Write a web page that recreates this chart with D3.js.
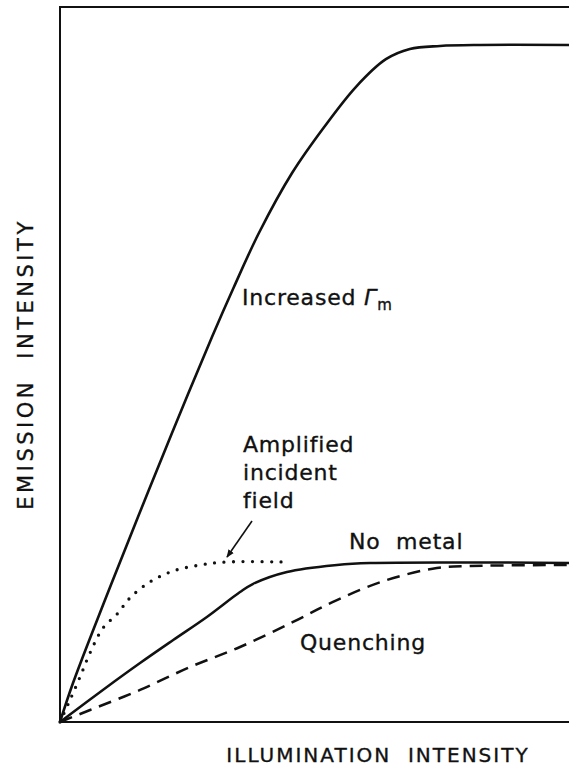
<!DOCTYPE html>
<html>
<head>
<meta charset="utf-8">
<script src="https://cdn.jsdelivr.net/npm/d3@7"></script>
<style>
  html, body { margin: 0; padding: 0; background: #fff; }
  svg { display: block; }
  text { font-family: "DejaVu Sans", sans-serif; fill: #111; stroke: #111; stroke-width: 0.35; }
</style>
</head>
<body>
<svg id="chart" width="569" height="779"></svg>
<script>
// Illumination intensity (relative, 0–100) and emission intensity (relative, 0–100)
const increasedX = [0, 2.55, 8.82, 15.29, 21.96, 29.8, 34.1, 39.0, 45.5, 51.8, 58.0, 63.9, 68.6, 74.5, 82.4, 100];
const increasedY = [0, 5.45, 17.06, 28.67, 40.42, 53.85, 60.84, 68.39, 76.78, 83.22, 88.81, 92.7, 94.13, 94.55, 94.69, 94.69];

const amplifiedX = [0, 1.96, 3.92, 5.88, 8.43, 11.2, 13.7, 17.6, 22.2, 27.5, 32.7, 43.7];
const amplifiedY = [0, 3.08, 6.29, 9.65, 13.15, 15.1, 17.34, 19.58, 21.12, 21.96, 22.38, 22.38];

const noMetalX = [0, 9.2, 15.7, 22.2, 28.8, 35.3, 37.8, 44.5, 54.3, 60.8, 100];
const noMetalY = [0, 4.9, 8.25, 11.47, 14.69, 18.18, 19.3, 20.98, 21.96, 22.24, 22.24];

const quenchingX = [0, 5.9, 15.7, 25.5, 35.3, 45.7, 54.3, 64.1, 73.9, 80.4, 100];
const quenchingY = [0, 1.68, 4.48, 7.69, 10.49, 13.99, 17.06, 19.86, 21.54, 21.82, 21.96];

const xTitle = "ILLUMINATION INTENSITY";
const yTitle = "EMISSION INTENSITY";

const svg = d3.select("#chart");
const margin = { left: 60, top: 7, bottom: 722, right: 570 };

const x = d3.scaleLinear().domain([0, 100]).range([margin.left, margin.right]);
const y = d3.scaleLinear().domain([0, 100]).range([margin.bottom, margin.top]);

// frame: left, top and bottom edges (right edge runs past the page)
svg.append("path")
  .attr("d", `M${x(100) + 5},${y(100)} H${x(0)} V${y(0)} H${x(100) + 5}`)
  .attr("fill", "none")
  .attr("stroke", "#111")
  .attr("stroke-width", 2);

const zip = (xs, ys) => xs.map((v, i) => [v, ys[i]]);
const line = d3.line()
  .x(d => x(d[0]))
  .y(d => y(d[1]))
  .curve(d3.curveCatmullRom.alpha(0.5));

const curves = [
  { pts: zip(increasedX, increasedY), dash: null, width: 2.6 },
  { pts: zip(noMetalX, noMetalY), dash: null, width: 2.5 },
  { pts: zip(quenchingX, quenchingY), dash: "13,8", width: 2.5 },
  { pts: zip(amplifiedX, amplifiedY), dash: "0,9.5", width: 3.3, cap: "round" }
];

svg.selectAll("path.curve")
  .data(curves)
  .join("path")
  .attr("class", "curve")
  .attr("d", d => line(d.pts))
  .attr("fill", "none")
  .attr("stroke", "#111")
  .attr("stroke-width", d => d.width)
  .attr("stroke-dasharray", d => d.dash)
  .attr("stroke-linecap", d => d.cap || "butt");

// arrow pointing at the amplified-field curve
svg.append("defs").append("marker")
  .attr("id", "head")
  .attr("viewBox", "0 0 10 10")
  .attr("refX", 9).attr("refY", 5)
  .attr("markerWidth", 8).attr("markerHeight", 8)
  .attr("markerUnits", "userSpaceOnUse")
  .attr("orient", "auto")
  .append("path")
  .attr("d", "M0,1 L10,5 L0,9 Z")
  .attr("fill", "#111");

svg.append("line")
  .attr("x1", 252).attr("y1", 521)
  .attr("x2", 227).attr("y2", 557)
  .attr("stroke", "#111")
  .attr("stroke-width", 1.6)
  .attr("marker-end", "url(#head)");

// curve labels
const fs = 22;
const inc = svg.append("text")
  .attr("x", 242).attr("y", 305)
  .attr("font-size", fs)
  .attr("letter-spacing", 0.8);
inc.append("tspan").text("Increased ");
inc.append("tspan").attr("font-style", "italic").text("Γ");
inc.append("tspan").attr("font-size", 15).attr("dy", 5).text("m");

const amp = svg.append("text")
  .attr("x", 243).attr("y", 452)
  .attr("font-size", fs)
  .attr("letter-spacing", 0.8);
["Amplified", "incident", "field"].forEach((t, i) => {
  amp.append("tspan").attr("x", 243).attr("dy", i === 0 ? 0 : 28).text(t);
});

svg.append("text")
  .attr("x", 349).attr("y", 549)
  .attr("font-size", fs)
  .attr("letter-spacing", 0.8)
  .attr("xml:space", "preserve")
  .text("No  metal");

svg.append("text")
  .attr("x", 300).attr("y", 650)
  .attr("font-size", fs)
  .attr("letter-spacing", 0.8)
  .text("Quenching");

// axis titles
svg.append("text")
  .attr("x", 378).attr("y", 762)
  .attr("text-anchor", "middle")
  .attr("font-size", 20)
  .attr("letter-spacing", 2)
  .attr("xml:space", "preserve")
  .text(xTitle.replace(" ", "  "));

svg.append("text")
  .attr("transform", `translate(33,364) rotate(-90)`)
  .attr("text-anchor", "middle")
  .attr("font-size", 21)
  .attr("letter-spacing", 3.5)
  .attr("xml:space", "preserve")
  .text(yTitle.replace(" ", "  "));
</script>
</body>
</html>
